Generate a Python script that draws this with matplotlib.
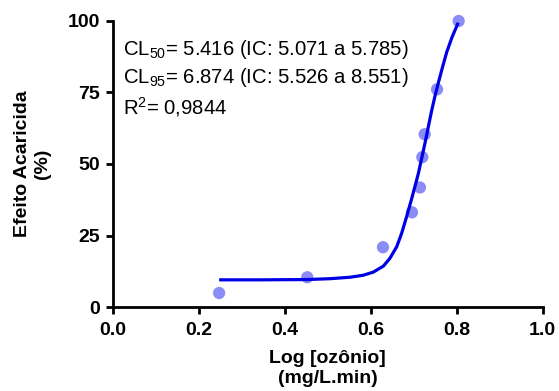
import matplotlib
matplotlib.use("Agg")
import matplotlib.pyplot as plt

plt.rcParams['font.family'] = ['Liberation Sans', 'DejaVu Sans']
plt.rcParams['mathtext.fontset'] = 'custom'
plt.rcParams['mathtext.rm'] = 'Liberation Sans'
plt.rcParams['mathtext.it'] = 'Liberation Sans'
plt.rcParams['mathtext.bf'] = 'Liberation Sans:bold'

# observed points
obs_x = [0.248, 0.453, 0.629, 0.6965, 0.715, 0.7205, 0.726, 0.7547, 0.805]
obs_y = [4.9, 10.4, 20.9, 33.1, 41.8, 52.4, 60.4, 76.1, 100.0]

# fitted curve
fit_x = [0.248, 0.35, 0.453, 0.506, 0.552, 0.583, 0.6065, 0.630, 0.645, 0.661,
         0.6725, 0.684, 0.696, 0.711, 0.719, 0.727, 0.735, 0.742, 0.750, 0.758,
         0.767, 0.777, 0.790, 0.804]
fit_y = [9.5, 9.5, 9.6, 9.9, 10.4, 11.1, 12.2, 14.3, 17.0, 21.1,
         25.8, 31.6, 38.0, 46.5, 52.0, 57.5, 63.4, 68.5, 73.8, 78.5,
         83.6, 89.0, 94.5, 99.4]

x_ticks = [0.0, 0.2, 0.4, 0.6, 0.8, 1.0]
x_tick_labels = ['0.0', '0.2', '0.4', '0.6', '0.8', '1.0']
y_ticks = [0, 25, 50, 75, 100]

annot_lines = [
    r'CL$_{50}$= 5.416 (IC: 5.071 a 5.785)',
    r'CL$_{95}$= 6.874 (IC: 5.526 a 8.551)',
    r'R$^{2}$= 0,9844',
]

fig = plt.figure(figsize=(5.59, 3.91), dpi=100)
ax = fig.add_axes([112.5/559, 1-307/391, 430/559, (307-21)/391])

ax.scatter(obs_x, obs_y, s=78, color='#8c8cf6', edgecolors='none', zorder=2, clip_on=False)
ax.plot(fit_x, fit_y, color='#0000e6', lw=2.3, zorder=3, solid_capstyle='butt',
        solid_joinstyle='round', clip_on=False)

ax.set_xlim(0, 1)
ax.set_ylim(0, 100)
ax.set_xticks(x_ticks)
ax.set_xticklabels(x_tick_labels)
ax.set_yticks(y_ticks)
for s in ['top', 'right']:
    ax.spines[s].set_visible(False)
for s in ['left', 'bottom']:
    ax.spines[s].set_linewidth(2.0)
ax.tick_params(axis='both', width=2.0, length=5, labelsize=14)
ax.tick_params(axis='x', pad=6)
ax.tick_params(axis='y', pad=4)
for lab in ax.get_xticklabels() + ax.get_yticklabels():
    lab.set_fontweight('bold')

ax.set_xlabel('Log [ozônio]\n(mg/L.min)', fontsize=14, fontweight='bold', labelpad=8, linespacing=1.2)
ax.set_ylabel('Efeito Acaricida\n(%)', fontsize=14, fontweight='bold', labelpad=12, linespacing=1.2)

ys = [88.1, 78.4, 67.4]
for t, yv in zip(annot_lines, ys):
    ax.text(0.024, yv, t, fontsize=14.6, va='baseline', ha='left')

fig.savefig('out.png', dpi=100)
